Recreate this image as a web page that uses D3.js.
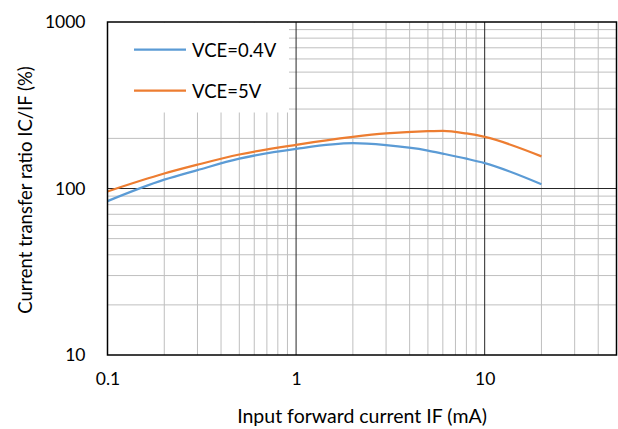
<!DOCTYPE html>
<html>
<head>
<meta charset="utf-8">
<script src="https://cdn.jsdelivr.net/npm/d3@7"></script>
<style>
  html, body { margin: 0; padding: 0; background: #fff; }
  svg { display: block; font-family: Lato, "Open Sans", sans-serif; }
</style>
</head>
<body>
<svg id="chart" width="618" height="429"></svg>
<script>
// ---- data ----
const currentIF = [0.1, 0.2, 0.3, 0.5, 1, 2, 3, 5, 6, 8, 10, 20];           // mA
const ctrVce04 = [84, 113, 129, 151, 173, 187, 182, 169, 162, 151, 142, 106]; // %
const ctrVce5  = [96, 123, 139, 160, 183, 204, 214, 221, 222, 214, 204, 156]; // %
const seriesNames = ["VCE=0.4V", "VCE=5V"];
const xTickLabels = ["0.1", "1", "10"];
const yTickLabels = ["10", "100", "1000"];
const xTitle = "Input forward current IF (mA)";
const yTitle = "Current transfer ratio IC/IF (%)";

// ---- layout ----
const W = 618, H = 429;
const m = { left: 107.5, right: 1.5, top: 22, bottom: 74 };
const svg = d3.select("#chart");

const x = d3.scaleLog().domain([0.1, 50]).range([m.left, W - m.right]);
const y = d3.scaleLog().domain([10, 1000]).range([H - m.bottom, m.top]);

const minorX = [];
[0.1, 1, 10].forEach(d => { for (let k = 2; k <= 9; k++) { const v = +(d * k).toPrecision(3); if (v < 50) minorX.push(v); } });
const minorY = [];
[10, 100].forEach(d => { for (let k = 2; k <= 9; k++) minorY.push(d * k); });

const g = svg.append("g");

// minor grid
g.selectAll("line.mx").data(minorX).join("line")
  .attr("x1", d => x(d)).attr("x2", d => x(d))
  .attr("y1", y(10)).attr("y2", y(1000))
  .attr("stroke", "#bfbfbf").attr("stroke-width", 1);
g.selectAll("line.my").data(minorY).join("line")
  .attr("y1", d => y(d)).attr("y2", d => y(d))
  .attr("x1", x(0.1)).attr("x2", x(50))
  .attr("stroke", "#bfbfbf").attr("stroke-width", 1);

// major grid
g.selectAll("line.Mx").data([1, 10]).join("line")
  .attr("x1", d => x(d)).attr("x2", d => x(d))
  .attr("y1", y(10)).attr("y2", y(1000))
  .attr("stroke", "#262626").attr("stroke-width", 1);
g.selectAll("line.My").data([100]).join("line")
  .attr("y1", d => y(d)).attr("y2", d => y(d))
  .attr("x1", x(0.1)).attr("x2", x(50))
  .attr("stroke", "#262626").attr("stroke-width", 1);

// lines
const line = d3.line().x(d => x(d[0])).y(d => y(d[1])).curve(d3.curveMonotoneX);
const series = [
  { name: seriesNames[0], color: "#5b9bd5", vals: ctrVce04 },
  { name: seriesNames[1], color: "#ed7d31", vals: ctrVce5 }
];
series.forEach(s => {
  g.append("path")
    .datum(currentIF.map((c, i) => [c, s.vals[i]]))
    .attr("d", line)
    .attr("fill", "none")
    .attr("stroke", s.color)
    .attr("stroke-width", 2.25)
    .attr("stroke-linejoin", "round");
});

// legend box (covers the grid)
const leg = svg.append("g");
leg.append("rect")
  .attr("x", x(0.1) + 0.5).attr("y", y(1000) + 0.5)
  .attr("width", 181).attr("height", 90)
  .attr("fill", "#fff");
series.forEach((s, i) => {
  const ly = 49.5 + i * 41;
  leg.append("line").attr("x1", 134).attr("x2", 186).attr("y1", ly).attr("y2", ly)
    .attr("stroke", s.color).attr("stroke-width", 2.25);
  leg.append("text").attr("x", 192).attr("y", ly + 7)
    .attr("font-size", 18.5).attr("fill", "#000").text(s.name);
});

// frame
svg.append("rect")
  .attr("x", x(0.1)).attr("y", y(1000))
  .attr("width", x(50) - x(0.1)).attr("height", y(10) - y(1000))
  .attr("fill", "none").attr("stroke", "#000").attr("stroke-width", 1.5);

// axes
const xAxis = d3.axisBottom(x).tickValues([0.1, 1, 10])
  .tickFormat((d, i) => xTickLabels[i]).tickSize(0).tickPadding(18);
const yAxis = d3.axisLeft(y).tickValues([10, 100, 1000])
  .tickFormat((d, i) => yTickLabels[i]).tickSize(0).tickPadding(22);

const gx = svg.append("g").attr("transform", `translate(0,${y(10)})`).call(xAxis);
const gy = svg.append("g").attr("transform", `translate(${x(0.1)},0)`).call(yAxis);
[gx, gy].forEach(a => {
  a.select(".domain").remove();
  a.selectAll("text").attr("font-family", "Lato, sans-serif").attr("font-size", 17.5).attr("fill", "#000");
});

// titles
svg.append("text").attr("x", 362).attr("y", 423)
  .attr("text-anchor", "middle").attr("font-size", 19.5).attr("fill", "#000").text(xTitle);
svg.append("text").attr("transform", "translate(31.5,190) rotate(-90)")
  .attr("text-anchor", "middle").attr("font-size", 18.5).attr("fill", "#000").text(yTitle);
</script>
</body>
</html>
